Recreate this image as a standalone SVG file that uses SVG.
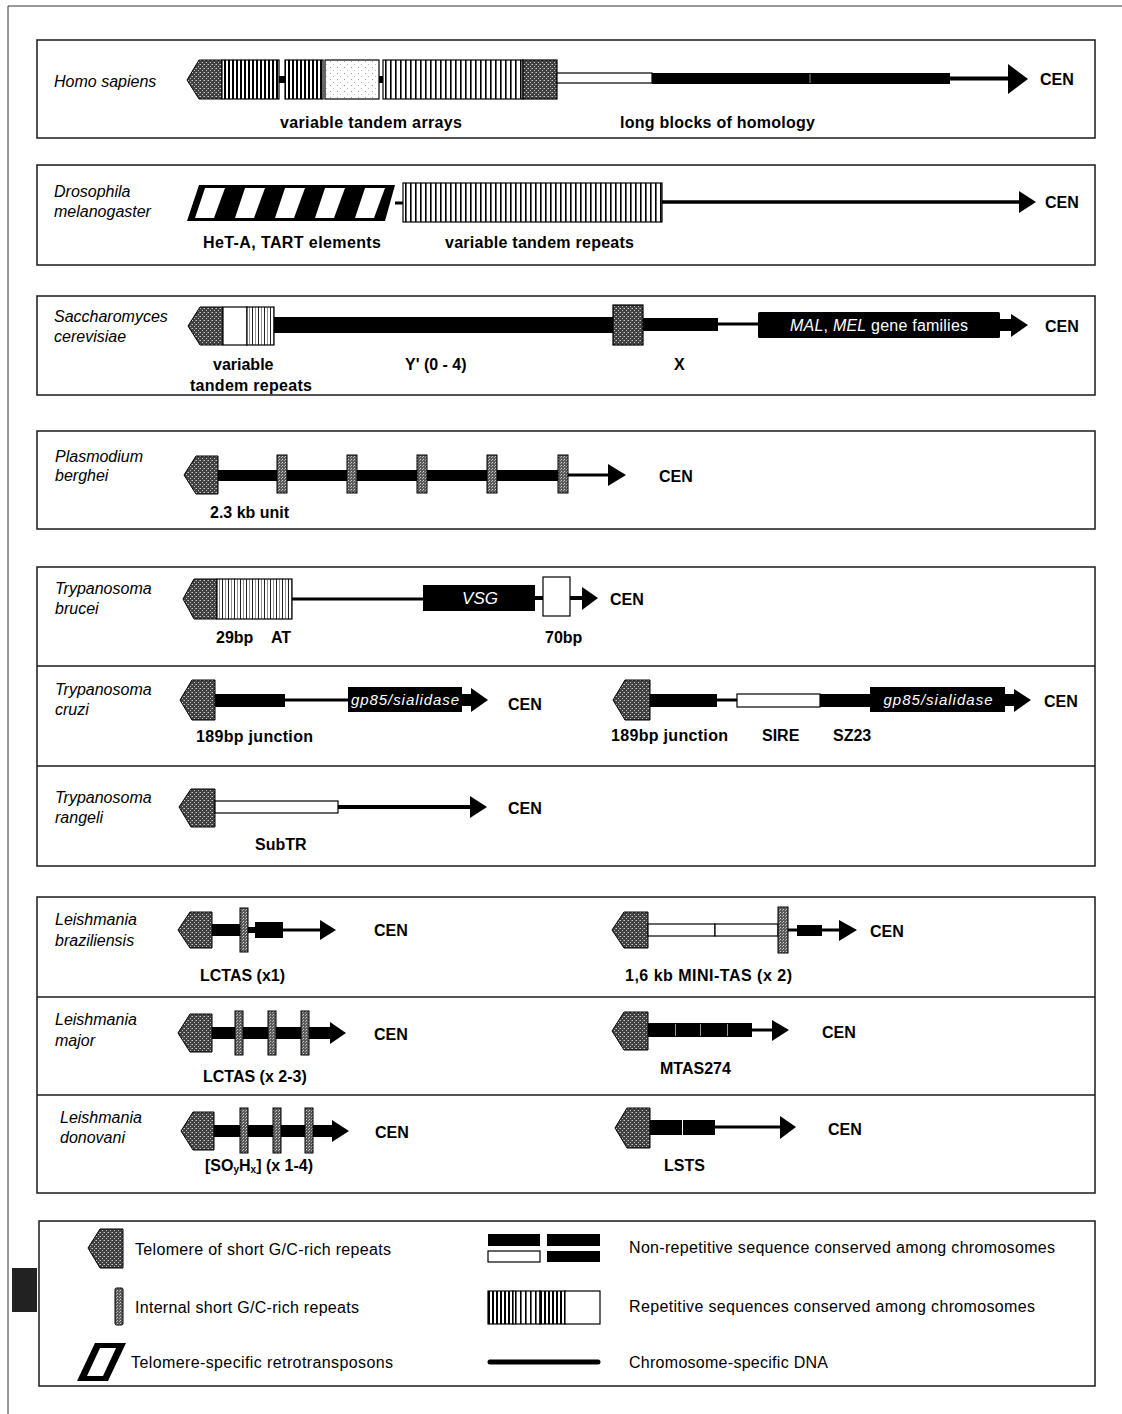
<svg xmlns="http://www.w3.org/2000/svg" width="1122" height="1414" viewBox="0 0 1122 1414">
<defs>
<style>
.box{fill:none;stroke:#1a1a1a;stroke-width:1.5}
.div{stroke:#1a1a1a;stroke-width:1.5}
text{font-family:"Liberation Sans",Arial,sans-serif;font-size:16px;dominant-baseline:central;fill:#000}
.b{font-weight:bold}
.i{font-style:italic}
.w{fill:#fff;font-size:15px}
.blk{fill:#000}
.tel{fill:url(#stip);stroke:#000;stroke-width:1}
.rep{fill:url(#stip2);stroke:#000;stroke-width:1}
.ol{stroke:#000;stroke-width:1.2}
.wht{fill:#fff;stroke:#000;stroke-width:1.2}
.ln{stroke:#000;fill:none}
.arr{fill:#000}
</style>
<pattern id="stip" width="4" height="4" patternUnits="userSpaceOnUse"><rect width="4" height="4" fill="#404040"/><rect x="0" y="0" width="1" height="1" fill="#c8c8c8"/><rect x="2" y="2" width="1" height="1" fill="#c8c8c8"/><rect x="3" y="0" width="1" height="1" fill="#888"/></pattern>
<pattern id="stip2" width="3" height="3" patternUnits="userSpaceOnUse"><rect width="3" height="3" fill="#5a5a5a"/><rect x="0" y="0" width="1" height="1" fill="#d0d0d0"/><rect x="2" y="1" width="1" height="1" fill="#aaa"/></pattern>
<pattern id="str" width="5" height="10" patternUnits="userSpaceOnUse"><rect width="5" height="10" fill="#fff"/><rect width="1.6" height="10" fill="#000"/></pattern>
<pattern id="strD" width="4" height="10" patternUnits="userSpaceOnUse"><rect width="4" height="10" fill="#fff"/><rect width="2" height="10" fill="#000"/></pattern>
<pattern id="strL" width="6" height="10" patternUnits="userSpaceOnUse"><rect width="6" height="10" fill="#fff"/><rect width="1" height="10" fill="#222"/><rect x="3" y="0" width="0.8" height="10" fill="#777"/></pattern>
<pattern id="dots" width="7" height="6" patternUnits="userSpaceOnUse"><rect width="7" height="6" fill="#fff"/><rect x="1" y="1" width="1" height="1" fill="#999"/><rect x="4" y="4" width="1" height="1" fill="#bbb"/></pattern>
</defs>
<rect width="1122" height="1414" fill="#fff"/>
<g id="page-frame"><line x1="8" y1="6" x2="1122" y2="6" stroke="#333" stroke-width="1"/><line x1="8" y1="6" x2="8" y2="1414" stroke="#333" stroke-width="1"/></g>
<rect x="12" y="1268" width="25" height="44" fill="#222"/>

<g id="homo">
<rect class="box" x="37" y="40" width="1058" height="98"/>
<text class="i" x="54" y="81">Homo sapiens</text>
<polygon class="tel" points="187,80 199,60 222,60 222,99 199,99"/>
<rect x="222" y="60" width="57" height="39" fill="url(#strD)" class="ol"/>
<rect class="blk" x="279" y="76" width="6" height="7"/>
<rect x="285" y="60" width="38" height="39" fill="url(#strD)" class="ol"/>
<rect x="325" y="60" width="54" height="39" fill="url(#dots)" class="ol"/>
<rect class="blk" x="379" y="76" width="4" height="7"/>
<rect x="383" y="60" width="140" height="39" fill="url(#str)" class="ol"/>
<rect x="523" y="60" width="34" height="39" fill="url(#stip)" class="ol"/>
<rect class="wht" x="557" y="73" width="95" height="10"/>
<rect class="blk" x="652" y="73" width="298" height="11"/>
<line x1="810" y1="74" x2="810" y2="83" stroke="#888" stroke-width="1"/>
<line class="ln" x1="950" y1="78.5" x2="1010" y2="78.5" stroke-width="4"/>
<polygon class="arr" points="1008,64 1028,79 1008,94"/>
<text class="b" x="1040" y="79">CEN</text>
<text class="b" x="280" y="122" textLength="182">variable tandem arrays</text>
<text class="b" x="620" y="122" textLength="195">long blocks of homology</text>
</g>

<g id="drosophila">
<rect class="box" x="37" y="165" width="1058" height="100"/>
<text class="i" x="54" y="191">Drosophila</text>
<text class="i" x="54" y="211">melanogaster</text>
<polygon class="blk" points="199,185 395,185 385,221 187,221"/>
<polygon fill="#fff" points="205,188 225,188 214,218 195,218"/>
<polygon fill="#fff" points="245,188 265,188 254,218 235,218"/>
<polygon fill="#fff" points="285,188 305,188 294,218 275,218"/>
<polygon fill="#fff" points="325,188 345,188 334,218 315,218"/>
<polygon fill="#fff" points="365,188 385,188 374,218 355,218"/>
<line class="ln" x1="395" y1="203" x2="403" y2="203" stroke-width="3"/>
<rect x="403" y="183" width="259" height="39" fill="url(#str)" class="ol"/>
<line class="ln" x1="662" y1="202" x2="1021" y2="202" stroke-width="3.5"/>
<polygon class="arr" points="1019,191 1036,202 1019,213"/>
<text class="b" x="1045" y="202">CEN</text>
<text class="b" x="203" y="242" textLength="178">HeT-A, TART elements</text>
<text class="b" x="445" y="242" textLength="189">variable tandem repeats</text>
</g>

<g id="saccharomyces">
<rect class="box" x="37" y="296" width="1058" height="99"/>
<text class="i" x="54" y="316">Saccharomyces</text>
<text class="i" x="54" y="336">cerevisiae</text>
<polygon class="tel" points="188,326 200,307 223,307 223,345 200,345"/>
<rect class="wht" x="223" y="307" width="24" height="38"/>
<rect x="247" y="307" width="27" height="38" fill="url(#strL)" class="ol"/>
<rect class="blk" x="274" y="317" width="341" height="16"/>
<rect x="613" y="305" width="30" height="40" fill="url(#stip)" class="ol"/>
<rect class="blk" x="643" y="318" width="75" height="13"/>
<line class="ln" x1="718" y1="324" x2="758" y2="324" stroke-width="3"/>
<rect class="blk" x="758" y="312" width="242" height="26" rx="1.5"/>
<text class="w" x="790" y="325" style="font-size:16px" textLength="178"><tspan class="i">MAL</tspan>, <tspan class="i">MEL</tspan> gene families</text>
<rect class="blk" x="1000" y="319" width="12" height="12"/>
<polygon class="arr" points="1011,314 1028,325 1011,337"/>
<text class="b" x="1045" y="326">CEN</text>
<text class="b" x="213" y="364">variable</text>
<text class="b" x="190" y="385" textLength="122">tandem repeats</text>
<text class="b" x="405" y="364">Y'  (0 - 4)</text>
<text class="b" x="674" y="364">X</text>
</g>

<g id="plasmodium">
<rect class="box" x="37" y="431" width="1058" height="98"/>
<text class="i" x="55" y="456">Plasmodium</text>
<text class="i" x="55" y="475">berghei</text>
<polygon class="tel" points="184,475 196,456 218,456 218,494 196,494"/>
<rect class="blk" x="218" y="470" width="345" height="11"/>
<rect class="rep" x="277" y="455" width="10" height="38"/>
<rect class="rep" x="347" y="455" width="10" height="38"/>
<rect class="rep" x="417" y="455" width="10" height="38"/>
<rect class="rep" x="487" y="455" width="10" height="38"/>
<rect class="rep" x="558" y="455" width="10" height="38"/>
<line class="ln" x1="568" y1="475" x2="610" y2="475" stroke-width="3"/>
<polygon class="arr" points="608,464 626,475 608,486"/>
<text class="b" x="659" y="476">CEN</text>
<text class="b" x="210" y="512">2.3 kb unit</text>
</g>

<g id="trypanosoma">
<rect class="box" x="37" y="567" width="1058" height="299"/>
<line class="div" x1="37" y1="666" x2="1095" y2="666"/>
<line class="div" x1="37" y1="766" x2="1095" y2="766"/>
</g>

<g id="t-brucei">
<text class="i" x="55" y="588">Trypanosoma</text>
<text class="i" x="55" y="608">brucei</text>
<polygon class="tel" points="183,599 194,579 217,579 217,619 194,619"/>
<rect x="217" y="579" width="75" height="40" fill="url(#strL)" class="ol"/>
<line class="ln" x1="292" y1="599" x2="423" y2="599" stroke-width="3"/>
<rect class="blk" x="423" y="585" width="112" height="26"/>
<text class="w i" x="480" y="598" text-anchor="middle" style="font-size:17px">VSG</text>
<line class="ln" x1="535" y1="598" x2="543" y2="598" stroke-width="4"/>
<rect class="wht" x="543" y="577" width="27" height="39"/>
<line class="ln" x1="570" y1="598" x2="584" y2="598" stroke-width="4"/>
<polygon class="arr" points="582,587 598,598 582,610"/>
<text class="b" x="610" y="599">CEN</text>
<text class="b" x="216" y="637">29bp</text>
<text class="b" x="271" y="637">AT</text>
<text class="b" x="545" y="637">70bp</text>
</g>

<g id="t-cruzi">
<text class="i" x="55" y="689">Trypanosoma</text>
<text class="i" x="55" y="709">cruzi</text>
<polygon class="tel" points="180,700 192,680 215,680 215,720 192,720"/>
<rect class="blk" x="215" y="694" width="70" height="13"/>
<line class="ln" x1="285" y1="700" x2="348" y2="700" stroke-width="3"/>
<rect class="blk" x="348" y="687" width="114" height="25"/>
<text class="w i" x="405" y="699" text-anchor="middle" textLength="108">gp85/sialidase</text>
<rect class="blk" x="462" y="694" width="10" height="12"/>
<polygon class="arr" points="471,688 488,700 471,712"/>
<text class="b" x="508" y="704">CEN</text>
<text class="b" x="196" y="736" textLength="117">189bp junction</text>
<polygon class="tel" points="613,700 625,680 650,680 650,720 625,720"/>
<rect class="blk" x="650" y="694" width="67" height="13"/>
<line class="ln" x1="717" y1="700" x2="737" y2="700" stroke-width="3"/>
<rect class="wht" x="737" y="694" width="83" height="13"/>
<rect class="blk" x="820" y="694" width="50" height="13"/>
<rect class="blk" x="870" y="687" width="135" height="25"/>
<text class="w i" x="938" y="699" text-anchor="middle" textLength="109">gp85/sialidase</text>
<rect class="blk" x="1005" y="694" width="10" height="12"/>
<polygon class="arr" points="1014,689 1031,700 1014,712"/>
<text class="b" x="1044" y="701">CEN</text>
<text class="b" x="611" y="735" textLength="117">189bp junction</text>
<text class="b" x="762" y="735">SIRE</text>
<text class="b" x="833" y="735">SZ23</text>
</g>

<g id="t-rangeli">
<text class="i" x="55" y="797">Trypanosoma</text>
<text class="i" x="55" y="817">rangeli</text>
<polygon class="tel" points="179,807 191,789 215,789 215,827 191,827"/>
<rect class="wht" x="215" y="801" width="123" height="12"/>
<line class="ln" x1="338" y1="807" x2="472" y2="807" stroke-width="4"/>
<polygon class="arr" points="470,796 487,807 470,818"/>
<text class="b" x="508" y="808">CEN</text>
<text class="b" x="255" y="844">SubTR</text>
</g>

<g id="leishmania">
<rect class="box" x="37" y="897" width="1058" height="296"/>
<line class="div" x1="37" y1="997" x2="1095" y2="997"/>
<line class="div" x1="37" y1="1095" x2="1095" y2="1095"/>
</g>

<g id="l-braziliensis">
<text class="i" x="55" y="919">Leishmania</text>
<text class="i" x="55" y="940">braziliensis</text>
<polygon class="tel" points="178,930 190,912 212,912 212,948 190,948"/>
<rect class="blk" x="212" y="924" width="30" height="12"/>
<rect class="blk" x="248" y="927" width="8" height="6"/>
<rect class="blk" x="255" y="922" width="28" height="16"/>
<rect class="rep" x="240" y="908" width="8" height="44"/>
<line class="ln" x1="283" y1="930" x2="322" y2="930" stroke-width="3"/>
<polygon class="arr" points="320,920 336,930 320,940"/>
<text class="b" x="374" y="930">CEN</text>
<text class="b" x="200" y="975">LCTAS (x1)</text>
<polygon class="tel" points="612,930 624,912 648,912 648,948 624,948"/>
<rect class="wht" x="648" y="924" width="67" height="12"/>
<rect class="wht" x="715" y="924" width="63" height="12"/>
<line class="ln" x1="788" y1="930" x2="841" y2="930" stroke-width="3"/>
<rect class="blk" x="797" y="925" width="25" height="11"/>
<rect class="rep" x="778" y="907" width="10" height="46"/>
<polygon class="arr" points="839,920 857,930 839,941"/>
<text class="b" x="870" y="931">CEN</text>
<text class="b" x="625" y="975" textLength="167">1,6 kb MINI-TAS (x 2)</text>
</g>

<g id="l-major">
<text class="i" x="55" y="1019">Leishmania</text>
<text class="i" x="55" y="1040">major</text>
<polygon class="tel" points="178,1033 190,1014 212,1014 212,1052 190,1052"/>
<rect class="blk" x="212" y="1027" width="120" height="12"/>
<rect class="rep" x="235" y="1011" width="8" height="44"/>
<rect class="rep" x="268" y="1011" width="8" height="44"/>
<rect class="rep" x="301" y="1011" width="8" height="44"/>
<polygon class="arr" points="330,1022 346,1033 330,1044"/>
<text class="b" x="374" y="1034">CEN</text>
<text class="b" x="203" y="1076">LCTAS (x 2-3)</text>
<polygon class="tel" points="612,1031 624,1012 648,1012 648,1050 624,1050"/>
<rect class="blk" x="648" y="1023" width="104" height="14"/>
<line x1="675.5" y1="1024" x2="675.5" y2="1036" stroke="#999" stroke-width="1"/>
<line x1="700.5" y1="1024" x2="700.5" y2="1036" stroke="#999" stroke-width="1"/>
<line x1="727.5" y1="1024" x2="727.5" y2="1036" stroke="#999" stroke-width="1"/>
<line class="ln" x1="752" y1="1030" x2="774" y2="1030" stroke-width="3"/>
<polygon class="arr" points="772,1020 789,1030 772,1041"/>
<text class="b" x="822" y="1032">CEN</text>
<text class="b" x="660" y="1068">MTAS274</text>
</g>

<g id="l-donovani">
<text class="i" x="60" y="1117">Leishmania</text>
<text class="i" x="60" y="1137">donovani</text>
<polygon class="tel" points="181,1131 193,1112 214,1112 214,1150 193,1150"/>
<rect class="blk" x="214" y="1125" width="120" height="12"/>
<rect class="rep" x="240" y="1108" width="8" height="45"/>
<rect class="rep" x="273" y="1108" width="8" height="45"/>
<rect class="rep" x="305" y="1108" width="8" height="45"/>
<polygon class="arr" points="332,1120 349,1131 332,1142"/>
<text class="b" x="375" y="1132">CEN</text>
<text class="b" x="205" y="1165">[SO<tspan font-size="10" dy="4">y</tspan><tspan dy="-4">H</tspan><tspan font-size="10" dy="4">x</tspan><tspan dy="-4">] (x 1-4)</tspan></text>
<polygon class="tel" points="615,1128 627,1108 650,1108 650,1148 627,1148"/>
<rect class="blk" x="650" y="1120" width="32" height="15"/>
<rect class="blk" x="683" y="1120" width="32" height="15"/>
<line class="ln" x1="715" y1="1127" x2="782" y2="1127" stroke-width="3"/>
<polygon class="arr" points="780,1116 796,1127 780,1139"/>
<text class="b" x="828" y="1129">CEN</text>
<text class="b" x="664" y="1165">LSTS</text>
</g>

<g id="legend">
<rect class="box" x="39" y="1221" width="1056" height="165"/>
<polygon class="tel" points="88,1248 100,1229 123,1229 123,1268 100,1268"/>
<text x="135" y="1249" textLength="256">Telomere of short G/C-rich repeats</text>
<rect class="rep" x="115" y="1288" width="8" height="37" rx="1.5"/>
<text x="135" y="1307" textLength="224">Internal short G/C-rich repeats</text>
<polygon class="blk" points="95,1343 126,1343 108,1381 77,1381"/>
<polygon fill="#fff" points="100,1348 116,1348 103,1376 87,1376"/>
<text x="131" y="1362" textLength="262">Telomere-specific retrotransposons</text>
<rect class="blk" x="488" y="1234" width="52" height="12"/>
<rect class="blk" x="547" y="1234" width="53" height="12"/>
<rect class="wht" x="488" y="1251" width="52" height="11"/>
<rect class="blk" x="547" y="1251" width="53" height="11"/>
<text x="629" y="1247" textLength="426">Non-repetitive sequence conserved among chromosomes</text>
<rect x="488" y="1291" width="25" height="33" fill="url(#strD)" class="ol"/>
<rect x="513" y="1291" width="27" height="33" fill="url(#str)" class="ol"/>
<rect x="540" y="1291" width="25" height="33" fill="url(#strD)" class="ol"/>
<rect class="wht" x="565" y="1291" width="35" height="33"/>
<text x="629" y="1306" textLength="406">Repetitive sequences conserved among chromosomes</text>
<line x1="490" y1="1362" x2="598" y2="1362" stroke="#000" stroke-width="5" stroke-linecap="round"/>
<text x="629" y="1362" textLength="199">Chromosome-specific DNA</text>
</g>
</svg>
